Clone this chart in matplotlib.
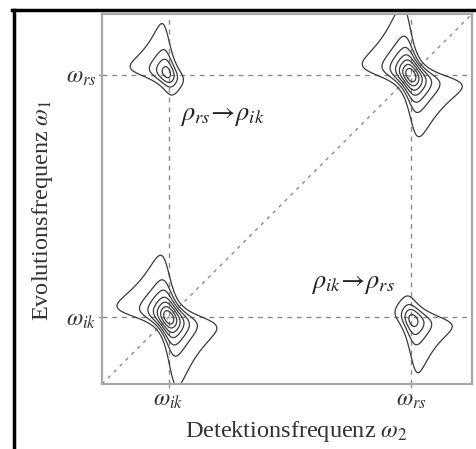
import numpy as np
import matplotlib
matplotlib.use('Agg')
import matplotlib.pyplot as plt
from matplotlib.lines import Line2D

plt.rcParams['font.family'] = ['Liberation Serif', 'DejaVu Serif']
plt.rcParams['mathtext.fontset'] = 'stix'

# peak positions (axis units 0..10)
w_ik = 1.8
w_rs = 8.35
tick_pos = [w_ik, w_rs]
tick_labels = [r'$\omega_{ik}$', r'$\omega_{rs}$']

# four peaks: diagonal + cross peaks
peak_x = [w_ik, w_rs, w_ik, w_rs]
peak_y = [w_ik, w_rs, w_rs, w_ik]
peak_amp = [1.0, 1.0, 0.45, 0.45]
peak_size = [1.0, 1.0, 0.88, 0.95]
peak_skew = [0.0, 0.0, 0.2, -0.2]
twist = 0.7
width_x = 0.31
width_y = 0.41

levels = [0.1, 0.2, 0.3, 0.42, 0.55, 0.7, 0.85]

# 2D spectrum (mixed phase line shape)
g = np.linspace(0, 10, 900)
X, Y = np.meshgrid(g, g)
Z = np.zeros_like(X)
for x0, y0, a, k, s in zip(peak_x, peak_y, peak_amp, peak_size, peak_skew):
    u = (X - x0) / (width_x * k)
    v = (Y - y0) / (width_y * k)
    Z += a * (1 - twist * u * v + s * (v - u)) / ((1 + u**2) * (1 + v**2))

fig = plt.figure(figsize=(4.76, 4.49), dpi=100)
ax = fig.add_axes([102/476, 65/449, 370/476, 370/449])

dash_col = '#8a8a8a'
for p in tick_pos:
    ax.plot([0, 10], [p, p], color=dash_col, lw=1.0, dashes=(3.5, 3.5))
    ax.plot([p, p], [0, 10], color=dash_col, lw=1.0, dashes=(3.5, 3.5))
ax.plot([0, 10], [0, 10], color=dash_col, lw=1.0, dashes=(2.5, 3.5))

ax.contour(X, Y, Z, levels=levels, colors='#3a3a3a', linewidths=0.9)

ax.text(2.1, 7.22, r'$\rho_{rs}\!\rightarrow\!\rho_{ik}$', fontsize=19,
        ha='left', va='center', color='#222222')
ax.text(5.65, 2.70, r'$\rho_{ik}\!\rightarrow\!\rho_{rs}$', fontsize=19,
        ha='left', va='center', color='#222222')

ax.set_xlim(0, 10)
ax.set_ylim(0, 10)
ax.set_xticks(tick_pos)
ax.set_xticklabels(tick_labels, fontsize=17, color='#333333')
ax.set_yticks(tick_pos)
ax.set_yticklabels(tick_labels, fontsize=17, color='#333333')
ax.tick_params(length=3, width=1, color='#999999', pad=1)
for sp in ax.spines.values():
    sp.set_color('#a8a8a8')
    sp.set_linewidth(1.6)

ax.set_xlabel(r'Detektionsfrequenz $\omega_2$', fontsize=17.5, color='#333333')
ax.set_ylabel(r'Evolutionsfrequenz $\omega_{\mathit{1}}$', fontsize=17.5, color='#333333')
ax.xaxis.set_label_coords((296 - 102) / 370, -(419 - 384) / 370)
ax.yaxis.set_label_coords(-(102 - 55) / 370, (384 - 210) / 370)

# black frame (left and top)
fig.add_artist(Line2D([13.5/476, 13.5/476], [0, 1 - 9.5/449], color='black', lw=2.5,
                      transform=fig.transFigure))
fig.add_artist(Line2D([12/476, 1], [1 - 9.5/449, 1 - 9.5/449], color='black', lw=2.5,
                      transform=fig.transFigure))

fig.savefig('out.png', dpi=100)
